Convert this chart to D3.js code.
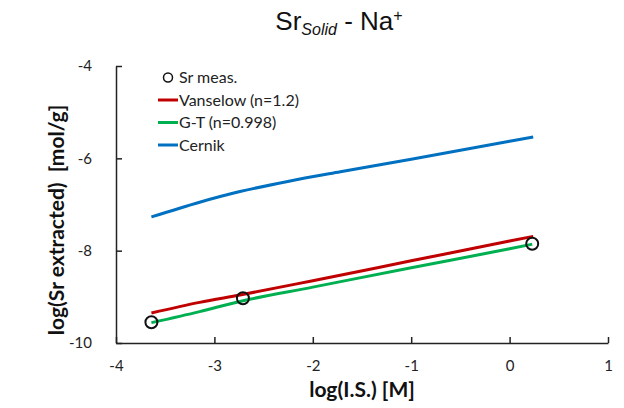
<!DOCTYPE html>
<html>
<head>
<meta charset="utf-8">
<script src="https://cdn.jsdelivr.net/npm/d3@7"></script>
<style>
  body { margin: 0; background: #fff; }
  svg { display: block; }
  .tick text { font-family: Lato, sans-serif; font-size: 15px; fill: #222; }
</style>
</head>
<body>
<svg id="chart" width="624" height="408"></svg>
<script>
// Data
const measX = [-3.64, -2.71, 0.23];
const measY = [-9.55, -9.03, -7.85];

const vanselowX = [-3.64, -3.15, -2.74, -2, -1, 0, 0.24];
const vanselowY = [-9.35, -9.12, -8.96, -8.65, -8.22, -7.79, -7.69];

const gtX = [-3.64, -3.15, -2.74, -2, -1, 0, 0.23];
const gtY = [-9.56, -9.32, -9.1, -8.79, -8.37, -7.96, -7.86];

const cernikX = [-3.64, -3.15, -2.74, -2.23, -1.72, -1, 0, 0.24];
const cernikY = [-7.27, -6.95, -6.72, -6.49, -6.29, -6.02, -5.63, -5.54];

const xTicks = [-4, -3, -2, -1, 0, 1];
const yTicks = [-4, -6, -8, -10];

const seriesNames = ['Sr meas.', 'Vanselow (n=1.2)', 'G-T (n=0.998)', 'Cernik'];
const seriesColors = ['#000', '#c00000', '#00b050', '#0070c0'];

const svg = d3.select('#chart');

// Scales
const x = d3.scaleLinear().domain([-4, 1]).range([116, 608]);
const y = d3.scaleLinear().domain([-10, -4]).range([343, 66]);

const fmt = (d) => String(d);

// Axes (ticks pointing inward)
svg.append('g')
  .attr('transform', `translate(0,${y(-10)})`)
  .call(d3.axisBottom(x).tickValues(xTicks).tickFormat(fmt).tickSizeInner(-6).tickSizeOuter(0).tickPadding(17))
  .call((g) => g.selectAll('line, path').attr('stroke', '#222').attr('stroke-width', 1.5));

svg.append('g')
  .attr('transform', `translate(${x(-4)},0)`)
  .call(d3.axisLeft(y).tickValues(yTicks).tickFormat(fmt).tickSizeInner(-6).tickSizeOuter(0).tickPadding(24))
  .call((g) => g.selectAll('line, path').attr('stroke', '#222').attr('stroke-width', 1.5));

// Lines
const line = d3.line()
  .x((d) => x(d[0]))
  .y((d) => y(d[1]))
  .curve(d3.curveMonotoneX);

const curves = [
  [cernikX, cernikY, seriesColors[3]],
  [vanselowX, vanselowY, seriesColors[1]],
  [gtX, gtY, seriesColors[2]],
];

curves.forEach(([xs, ys, color]) => {
  svg.append('path')
    .datum(xs.map((v, i) => [v, ys[i]]))
    .attr('d', line)
    .attr('fill', 'none')
    .attr('stroke', color)
    .attr('stroke-width', 3);
});

// Measured points
svg.append('g')
  .selectAll('circle')
  .data(measX.map((v, i) => [v, measY[i]]))
  .join('circle')
  .attr('cx', (d) => x(d[0]))
  .attr('cy', (d) => y(d[1]))
  .attr('r', 6)
  .attr('fill', 'none')
  .attr('stroke', '#111')
  .attr('stroke-width', 2);

// Legend
const legend = svg.append('g').attr('transform', 'translate(158,77.5)');
seriesNames.forEach((name, i) => {
  const row = legend.append('g').attr('transform', `translate(0,${i * 22.5})`);
  if (i === 0) {
    row.append('circle').attr('cx', 10).attr('cy', 0).attr('r', 4.5)
      .attr('fill', 'none').attr('stroke', '#111').attr('stroke-width', 1.5);
  } else {
    row.append('line').attr('x1', 0).attr('x2', 20).attr('y1', 0).attr('y2', 0)
      .attr('stroke', seriesColors[i]).attr('stroke-width', 3);
  }
  row.append('text')
    .attr('x', 21)
    .attr('y', 5.5)
    .attr('font-family', 'Lato, sans-serif')
    .attr('font-size', 16)
    .attr('fill', '#222')
    .text(name);
});

// Title
const title = svg.append('text')
  .attr('x', 339)
  .attr('y', 30)
  .attr('text-anchor', 'middle')
  .attr('font-family', '"Liberation Sans", Arial, sans-serif')
  .attr('font-size', 26)
  .attr('fill', '#111');
title.append('tspan').text('Sr');
title.append('tspan').attr('font-size', 16).attr('font-style', 'italic').attr('dy', 5).text('Solid');
title.append('tspan').attr('dy', -5).text(' - Na');
title.append('tspan').attr('font-size', 16).attr('dy', -9).text('+');

// Axis titles
svg.append('text')
  .attr('x', 362)
  .attr('y', 397)
  .attr('text-anchor', 'middle')
  .attr('font-family', 'Lato, sans-serif')
  .attr('font-weight', 'bold')
  .attr('font-size', 21)
  .attr('fill', '#111')
  .text('log(I.S.) [M]');

svg.append('text')
  .attr('transform', 'translate(64,220) rotate(-90)')
  .attr('text-anchor', 'middle')
  .attr('font-family', 'Lato, sans-serif')
  .attr('font-weight', 'bold')
  .attr('font-size', 21)
  .attr('fill', '#111')
  .attr('xml:space', 'preserve')
  .text('log(Sr extracted)  [mol/g]');
</script>
</body>
</html>
